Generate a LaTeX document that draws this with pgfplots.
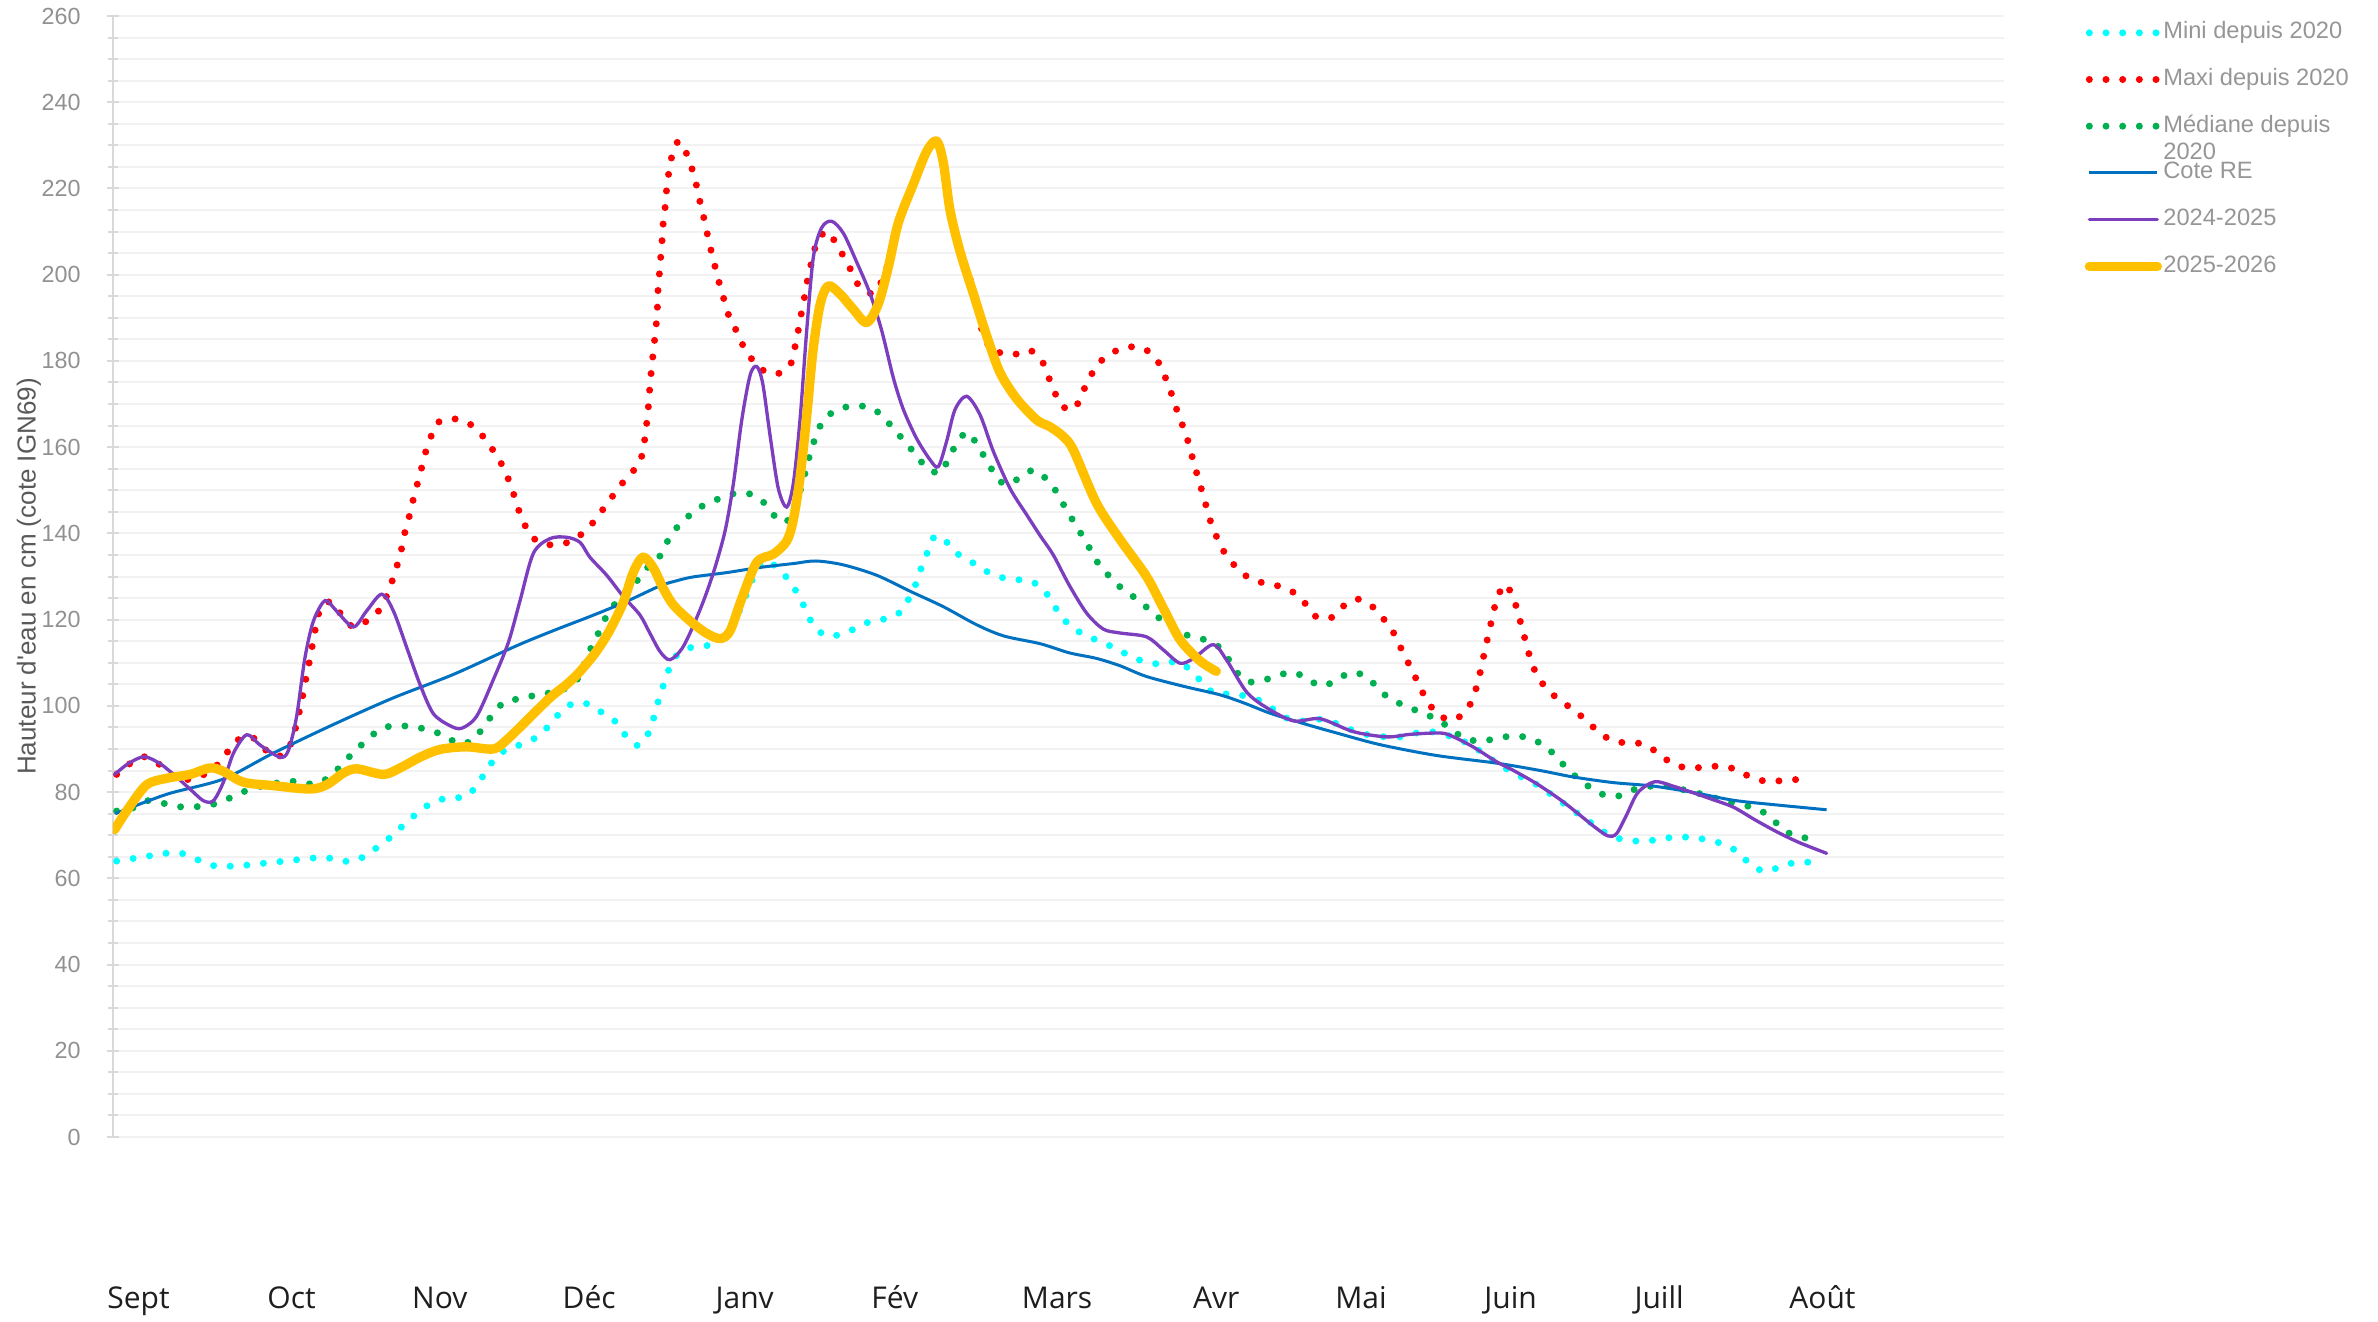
\documentclass[border=0pt]{standalone}
\usepackage{fontspec}
\setmainfont{Liberation Sans}
\newfontfamily\monthfont{Open Sans}
\usepackage{pgfplots}
\pgfplotsset{compat=1.18}
\definecolor{cmini}{RGB}{0,255,255}
\definecolor{cmaxi}{RGB}{255,0,0}
\definecolor{cmed}{RGB}{0,176,80}
\definecolor{cre}{RGB}{0,112,192}
\definecolor{cA}{RGB}{124,62,190}
\definecolor{cB}{RGB}{255,192,0}
\definecolor{axisgray}{RGB}{217,217,217}
\definecolor{gridgray}{RGB}{242,242,242}
\definecolor{tickgray}{RGB}{145,145,145}
\definecolor{labelgray}{RGB}{89,89,89}
\definecolor{leggray}{RGB}{150,150,150}
\definecolor{monthcol}{RGB}{30,30,30}
\begin{document}
\begin{tikzpicture}
\begin{axis}[
  at={(0,0)}, anchor=south west,
  scale only axis, width=567.3pt, height=336.3pt,
  xmin=74.5, xmax=1321.4, ymin=0, ymax=260,
  axis y line*=left, axis x line*=bottom,
  x axis line style={draw=none},
  y axis line style={draw=axisgray, line width=0.75pt},
  xtick={91.3,192.2,290,388.5,491,590,697,802,897.4,996,1094,1201.7},
  xticklabels={Sept,Oct,Nov,Déc,Janv,Fév,Mars,Avr,Mai,Juin,Juill,Août},
  xtick style={draw=none},
  xticklabel style={anchor=base, yshift=-49.6pt, font=\monthfont\fontsize{9pt}{10pt}\selectfont, text=monthcol},
  ytick={0,20,...,260},
  minor y tick num=3,
  ymajorgrids, yminorgrids,
  major grid style={draw=gridgray, line width=0.6pt},
  minor grid style={draw=gridgray, line width=0.6pt},
  ytick style={draw=axisgray, line width=0.6pt},
  tick align=center,
  major tick length=3.6pt, minor tick length=3.3pt,
  yticklabel style={font=\fontsize{7pt}{8pt}\selectfont, text=tickgray, xshift=-4.4pt},
  /pgf/number format/assume math mode=true,
  every axis y label/.style={at={(rel axis cs:0,0.5)}, xshift=-25.2pt, rotate=90, anchor=center, font=\fontsize{7.8pt}{9pt}\selectfont, text=labelgray},
  ylabel={Hauteur d\textquotesingle eau en cm (cote IGN69)},
  legend image code/.code={\draw[#1] (0pt,0pt) -- (20.4pt,0pt);},
  legend cell align=left,
  legend style={at={(rel axis cs:1.0423,1)}, anchor=north west, yshift=-1.35pt, draw=none, fill=none, inner sep=0pt, row sep=7pt,
    font=\fontsize{7.1pt}{8.2pt}\selectfont, text=leggray,
    nodes={inner xsep=0.4pt, inner ysep=0pt, text height=5.3pt, text depth=1.7pt}},
]
\addplot[cmini, line width=2.1pt, line cap=round, dash pattern=on 0pt off 5pt, smooth, tension=0.5] coordinates {
(76.9,64) (87.9,64.6) (98.5,65.2) (109.2,65.8) (119.8,65.8) (129.7,64.4) (139.6,63) (150.1,62.8) (160.9,63) (171.4,63.4) (182.4,63.8) (193,64.2) (203.8,64.6) (214.3,64.9) (224.7,64) (235.2,64.2) (244.6,66.2) (253.2,68.3) (261.1,70.7) (269.3,73.4) (277.6,75.8) (286.2,77.8) (296.7,78.7) (307,78.9) (314.3,81.5) (320.4,84.8) (326.4,87.8) (334.5,90) (345,91.2) (354.5,92.9) (362.2,95.5) (369.3,98.4) (378.1,100.6) (388,100.4) (396.7,98.5) (405.6,96.4) (412.1,93.3) (420.3,90.8) (427,93.3) (430.8,96.9) (433.6,100.6) (437,104.3) (440.2,107.7) (445,111.3) (453.9,113.4) (464,113.8) (474.7,115) (482,118) (490,124) (497,130) (504.5,133.6) (514.3,131.5) (520.9,128.7) (527,125.4) (531.6,122) (536.3,118.7) (544.4,116.3) (554.9,116.6) (564.8,118.1) (574.7,119.7) (585.3,120.3) (594.5,122) (600,125.4) (604.4,128.7) (607.7,132.3) (612,136) (616.5,139.4) (623.6,138.2) (630.8,135.4) (639.6,133.6) (648.8,131.5) (659,129.9) (669.3,129.3) (679.2,129) (688,127) (694,123.9) (700,120.6) (707.8,118) (716.6,116.2) (726.4,114.8) (736.3,113.2) (746,111.4) (756,110.1) (766,109.7) (777,110.3) (785.7,108) (793,105.3) (801,102.8) (812,102.8) (822,102.2) (832,101) (840.7,98.9) (850,96.9) (860,96.5) (871,96.9) (881,95.9) (892,94.3) (903,93.2) (914,92.8) (923,92.8) (934,93.7) (944,94) (954,93.2) (963.7,92) (976,89.5) (987,86.7) (1000,84.1) (1011,82.2) (1019.8,80.2) (1028.6,78) (1037.4,75.7) (1046,73.7) (1054.5,71.4) (1063.8,69.6) (1074,68.8) (1085,68.6) (1095.7,69.2) (1106.2,69.6) (1117,69.4) (1127.6,68.8) (1138,67.7) (1147,65.8) (1154.4,63.1) (1164,61.6) (1174,62.7) (1184,63.7) (1195,63.7)
};
\addlegendentry{Mini depuis 2020}
\addplot[cmaxi, line width=2.1pt, line cap=round, dash pattern=on 0pt off 5pt, smooth, tension=0.5] coordinates {
(76.9,84.1) (85.7,86.6) (95,88.2) (104.4,86.6) (112.8,84.1) (123,82.9) (133,83.8) (142.4,86) (149,88.8) (155.4,91.8) (165.3,92.9) (173,90.5) (181,88.2) (189,89.3) (193.4,92.9) (196,96.6) (198.5,100.4) (200.5,104) (202.6,108) (204.8,111.6) (206.6,115.5) (208.8,119.2) (211.6,122.9) (218.7,124.1) (225.3,121) (233,118.3) (242.4,119.8) (250.6,122.4) (255.4,125.9) (258.9,129.3) (262.2,133) (264.9,136.6) (267,140.3) (269.9,144) (272.5,147.9) (275.2,151.5) (278,155.2) (280.7,158.9) (284,162.3) (288.6,165.7) (298.5,166.6) (308.8,165.6) (317,163.1) (323.5,160.1) (329.3,157) (334.1,153.5) (337.8,150.1) (341,146.4) (345,142.8) (349.9,139.5) (358.3,137.5) (368.8,137.5) (378,138.4) (386.8,140.9) (393.8,143.7) (400,146.8) (406,149.6) (412.5,152.6) (421.5,156.2) (424,159.6) (425.7,163.2) (426.8,166.9) (427.9,170.9) (428.6,174.6) (429.7,178.5) (430.8,182.2) (431.9,185.8) (433,189.7) (433.6,193.4) (434,197.4) (435,201) (435.8,204.7) (436.7,208.7) (437.4,212.4) (438.7,216.1) (439.6,220) (441,223.7) (442.9,227.3) (447.3,231) (452.8,228) (456.5,224.3) (459.3,220.6) (461.5,217) (464,213.3) (466.4,209.4) (468.8,205.7) (471.4,202) (474,198.4) (477,194.7) (480,191) (484.6,187.7) (489,184.2) (494.5,181) (501,178.3) (511,176.9) (520.5,178.7) (523.6,182.4) (525.8,186) (527.6,189.7) (529.8,193.4) (531.5,197.2) (533.7,200.7) (536.3,204.7) (539.6,208.4) (546.2,210) (551.7,206.8) (557.6,203.5) (562.2,200.2) (567.5,196.8) (575.9,195.6) (580.3,197.7) (586,203) (593,212.5) (602,221.5) (611,229) (617.6,231.2) (622,226.5) (626.4,216) (633,206) (641.8,196.5) (648,186.5) (655,182) (660,182) (669,181.5) (679,182.5) (687,180) (691,176.6) (695,173.1) (700,169.6) (708.4,168.8) (713,172.2) (718,175.6) (723,178.9) (731,181.4) (740.7,183) (751.7,183.2) (760.4,181.3) (766,178.3) (770,174.6) (773.7,171.2) (777,167.5) (781,163.9) (784.3,160.2) (787,156.5) (790,152.9) (793,149.2) (796,145.5) (799,141.9) (803,138.6) (808,135.2) (815,132.2) (823,129.8) (833,128.5) (843,127.8) (853,126.3) (861,123.6) (868,120.6) (878,120.5) (885.3,123) (894.5,124.8) (904,123.3) (911.5,120.5) (918,117.5) (923,113.9) (927.4,110.8) (932.5,107.2) (937,103.8) (942.5,100.4) (949,97.7) (959,96.8) (967.6,99.3) (972,102.6) (975,106.2) (977.4,110.1) (979.7,113.8) (982,117.5) (984.4,121.1) (987,124.8) (992.3,128.2) (997.8,125.1) (1001,121.4) (1003.8,117.8) (1006.6,114.1) (1009.5,110.5) (1013.6,107) (1019.8,104) (1028,101.4) (1036.7,99.3) (1045,96.9) (1053,94.3) (1062,92.1) (1072,91.4) (1083,91.2) (1092.3,89.3) (1101,87) (1110.6,85.7) (1121.4,85.7) (1132,86) (1142.5,85.5) (1152.4,83.8) (1162.8,82.6) (1173,82.6) (1184,82.9) (1194.5,82.9)
};
\addlegendentry{Maxi depuis 2020}
\addplot[cmed, line width=2.1pt, line cap=round, dash pattern=on 0pt off 5pt, smooth, tension=0.5] coordinates {
(76.9,75.6) (86.8,76.2) (97.4,78) (107.7,77.4) (118.2,76.6) (129.2,76.6) (139.8,77.1) (149.4,78.3) (159.3,79.9) (169.2,81.1) (180.2,81.9) (190.8,82.6) (201.5,81.9) (211.6,82.3) (220.4,84.5) (227.5,87.2) (235.2,89.9) (242.9,92.4) (251.7,94.8) (262.2,95.4) (272.6,95.1) (283.1,94.4) (293.4,93) (302.7,91.2) (312.1,92.1) (318.7,95.1) (325.3,98.2) (332.6,100.9) (343.4,101.7) (353.5,102.5) (363.8,103.1) (374.4,104.3) (381.3,106.5) (388.6,112.6) (393.4,116) (401,121.5) (410,125.5) (420,129) (428,132.5) (436.3,135.2) (440.7,138.6) (446.9,141.6) (455,144.3) (463.8,146.5) (473.7,148) (483.6,149.2) (494,149.2) (503,147.4) (510,144.3) (518.7,142.7) (527.5,149.8) (532.6,156.5) (535.7,160.2) (539.6,164.1) (545.2,167.1) (554.4,169) (565,169.6) (575.4,169) (583.6,166.5) (590.8,163.6) (597.4,161) (604.4,158) (611.7,155) (620.5,154.1) (625.4,157.5) (630.9,160.8) (637.4,163.5) (644,160.8) (649.5,157.5) (655,154.3) (662.3,151.4) (672.2,152.8) (681.4,154.7) (690,152.6) (696.7,149.6) (702,146.2) (707.8,142.8) (713,139.8) (718.7,136.4) (724,133.1) (730.8,130.3) (738.5,127.6) (747,125.4) (755.6,123) (763.8,120.5) (772,118.5) (781,116.6) (792,115.6) (802,114.2) (809.7,111) (815,108) (822.8,105.6) (833.7,106) (843.6,107.2) (854,107.7) (863,105.9) (873,104.6) (883,106.5) (893,107.8) (902.9,106.2) (910,103.4) (919,101.2) (928,99.8) (938,98.3) (948,96.8) (957.6,94.4) (966,92.4) (977,91.8) (987,92.5) (997.5,93) (1008,92.6) (1017.6,90.9) (1025.8,88.4) (1033,85.5) (1040.7,83.1) (1049.7,80.8) (1059,79.2) (1069,79.2) (1079,80.8) (1089.8,81.4) (1100,81.4) (1110.4,80.5) (1121,79.6) (1131,78.6) (1142,77.6) (1152,76.8) (1162,75.5) (1170.4,73.1) (1178.5,70.7) (1188,69.4) (1199,69.8)
};
\addlegendentry{\makebox[0pt][l]{\raisebox{-8.2pt}[0pt][0pt]{2020}}Médiane depuis}
\addplot[cre, line width=0.9pt, smooth, tension=0.5] coordinates {
(76,75) (110,79.5) (147,83) (180,89) (220,95.7) (259,101.8) (299,107.3) (341,114) (366,117.6) (391,121) (413,124.2) (435,127.8) (446,129) (457,129.9) (479,130.9) (501,132.1) (523,133) (538,133.6) (556,132.7) (578,130.3) (600,126.6) (622,123) (644,118.8) (662,116.2) (686,114.4) (705,112.3) (723,111) (738.5,109.3) (756,106.8) (782,104.4) (804,102.6) (820,100.7) (837.4,98.3) (859.4,95.9) (881.4,93.7) (910,91) (947,88.5) (987,86.7) (1015.6,85) (1037.4,83.5) (1063.8,82.2) (1090,81.4) (1116.6,79.9) (1143,78.1) (1169,77.1) (1204.4,75.9)
};
\addlegendentry{Cote RE}
\addplot[cA, line width=1pt, line cap=round, smooth, tension=0.5] coordinates {
(75.6,84.1) (84.6,86.6) (95,88.2) (105.5,86.6) (115.4,83.8) (125.3,80.7) (134.1,78) (140.7,78) (147.3,82.3) (153.9,89) (162.7,93.3) (171.5,90.9) (184.6,88.1) (190.1,89.6) (195.6,97.6) (201,111) (206.6,119.6) (214.3,124.4) (221.9,122) (233,118.3) (241.7,122) (251.7,125.9) (259.4,122) (268.2,113.5) (277,104.9) (285.7,98.2) (296.7,95.4) (304.4,94.8) (314.3,97.6) (325.3,106.1) (335.2,114.7) (342.9,124.4) (351.7,135.4) (362.7,138.8) (373.7,139.1) (382.5,137.9) (388.9,134.5) (400,130.3) (410.9,125.4) (421.9,121.1) (428.6,116.8) (435.2,112.6) (441.8,110.7) (450.6,113.8) (461.6,122.3) (470.4,130.9) (478.1,140.6) (483.6,151.6) (489.1,166.3) (494.6,176.7) (499,178.7) (502.9,174.8) (507.8,162.6) (513.2,150.4) (518.7,146.1) (523.1,151.6) (527.5,166.3) (531.9,187) (536.3,204.1) (541.8,210.9) (548.4,212.4) (556.1,209.6) (564.9,202.9) (573.7,195.6) (581.4,187) (589.1,176) (595.7,168.7) (604.4,162) (613.2,157.1) (618.7,155.5) (624.2,161.4) (629.7,168.7) (637.4,171.8) (646.2,167.5) (655,159) (666,150.4) (677,144.3) (686,139.4) (694.5,135) (705,128) (716.5,121.5) (727.5,117.8) (738.5,116.9) (756,116) (767,113) (778,109.9) (787,111) (800,114.2) (809,110.5) (822,103.2) (835.5,99.5) (853,96.5) (870.5,97) (892.5,94) (914.5,92.8) (930,93.4) (950,93.7) (958.5,92.8) (971.7,90.4) (987,87) (998,85) (1013,82) (1028.6,78.3) (1041.6,74.7) (1052.6,71.6) (1060.5,69.8) (1066,70.4) (1072.5,74.7) (1080,79.9) (1091,82.4) (1103,81.4) (1116,79.9) (1129,78.3) (1143,76.5) (1158,73.4) (1173.7,70.4) (1187,68.2) (1204.4,65.8)
};
\addlegendentry{2024-2025}
\addplot[cB, line width=2.8pt, line cap=round, line join=round, smooth, tension=0.5] coordinates {
(75.6,71.3) (84.6,76.2) (96.7,81.7) (109.9,83.2) (125.3,84.1) (138.4,85.6) (147.3,84.8) (160.5,82.3) (180.2,81.5) (204.4,80.7) (215.4,81.7) (226.4,84.4) (235.2,85.4) (252.8,84.1) (263.8,85.6) (277,88.1) (290.2,89.9) (307.5,90.5) (325.3,90) (334.1,92.1) (347.3,96.6) (362.7,101.9) (373.7,105) (382,107.8) (393,112.5) (402,117.5) (411,124) (417.6,131) (424,134.5) (430.8,132) (437.4,127.2) (444,123.4) (455,119.7) (466,116.8) (475,115.6) (481.4,117.4) (489,124.8) (499,133.3) (510,135.2) (518.7,138.2) (523,143) (527.5,152.9) (532,167.5) (536,182.2) (540.7,193) (546,197.4) (553.7,195.6) (562.6,192) (571.4,188.9) (579,193.1) (585.7,201.7) (592.3,212) (602.2,221) (611,228.6) (617.6,231) (622,226) (626.4,215) (633,205.4) (641.8,195.6) (650.6,185.8) (659.4,177.3) (670.4,171.2) (683.6,166.3) (692,164.8) (701,162.5) (707.8,159.3) (723,147) (738.5,138.6) (756,130) (767,122.7) (778,115.4) (791,110.5) (802,108)
};
\addlegendentry{2025-2026}
\end{axis}
\pgfresetboundingbox
\path[use as bounding box] (-33.9pt,-55.2pt) rectangle (679.5pt,341.1pt);
\end{tikzpicture}
\end{document}
